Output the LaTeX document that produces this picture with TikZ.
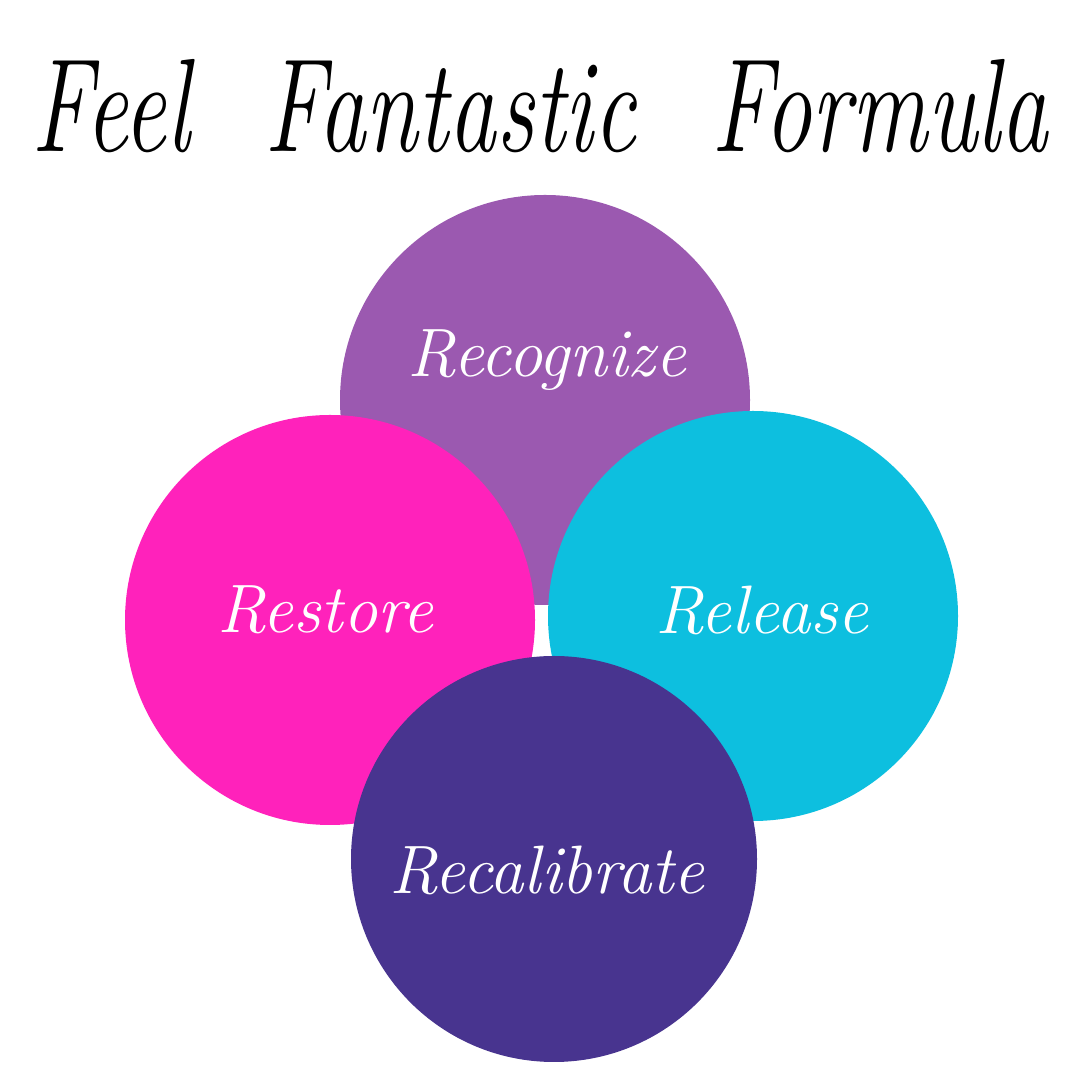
\documentclass[tikz,border=0pt]{standalone}
\usepackage{xcolor}
\usepackage{tikz}

\begin{document}
\begin{tikzpicture}
        \definecolor{lilac}{RGB}{155,89,176}
        \definecolor{hotpink}{RGB}{255,34,187}
        \definecolor{skyblue}{RGB}{13,191,223}
        \definecolor{indigo}{RGB}{72,52,143}

        \tikzset{
            blob/.style={circle, inner sep=0pt, minimum size=4.1cm},
            word/.style={text=white, font=\fontsize{19.5}{22}\selectfont\itshape},
        }

        % Canvas
        \fill[white] (0,0) rectangle (10.8,10.8);
        \useasboundingbox (0,0) rectangle (10.8,10.8);

        % Coordinates
        \coordinate (T) at (5.40, 9.28);
        \coordinate (A) at (5.45, 6.80);
        \coordinate (B) at (3.30, 4.60);
        \coordinate (C) at (7.53, 4.64);
        \coordinate (D) at (5.54, 2.21);

        % Drawing
        \node[blob, fill=lilac] (recog) at (A) {};
        \node[blob, fill=hotpink] (resto) at (B) {};
        \node[blob, fill=skyblue] (relea) at (C) {};
        \node[blob, fill=indigo, minimum size=4.06cm] (recal) at (D) {};
        \node[word] (recogtxt) at (5.47, 7.20) {Recognize};
        \node[word] (restotxt) at (3.25, 4.70) {Restore};
        \node[word] (releatxt) at (7.62, 4.70) {Release};
        \node[word] (recaltxt) at (5.47, 2.10) {Recalibrate};
        \node[anchor=base, inner sep=0pt, font=\fontsize{27}{30}\selectfont\itshape] (title) at (T)
            {\scalebox{1}[1.4]{Feel\hspace{0.75cm}Fantastic\hspace{0.75cm}Formula}};
    \end{tikzpicture}
\end{document}
